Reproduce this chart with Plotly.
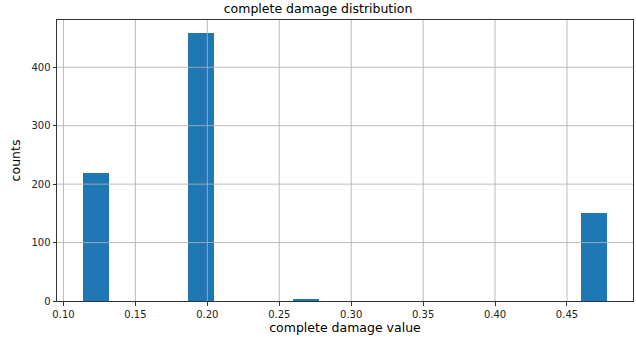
import plotly.graph_objects as go

# Histogram data (20 equal bins)
bin_start = 0.1137
bin_width = 0.0182
counts = [219, 0, 0, 0, 458, 0, 0, 0, 2, 0, 0, 0, 0, 0, 0, 0, 0, 0, 0, 150]
x_ticks = [0.10, 0.15, 0.20, 0.25, 0.30, 0.35, 0.40, 0.45]
x_tick_labels = ["0.10", "0.15", "0.20", "0.25", "0.30", "0.35", "0.40", "0.45"]
y_ticks = [0, 100, 200, 300, 400]

centers = [bin_start + bin_width * (i + 0.5) for i in range(len(counts))]
x_min = bin_start - bin_width
x_max = bin_start + bin_width * (len(counts) + 1)
y_max = max(counts) * 1.05

font = "DejaVu Sans"
fig = go.Figure()
fig.add_trace(go.Bar(
    x=centers, y=counts, width=bin_width,
    marker=dict(color="#1f77b4", line=dict(width=0)),
))

# gridlines drawn above bars like matplotlib
shapes = []
for t in x_ticks:
    shapes.append(dict(type="line", xref="x", yref="paper", x0=t, x1=t, y0=0, y1=1,
                       line=dict(color="rgba(176,176,176,0.85)", width=1), layer="above"))
for t in y_ticks[1:]:
    shapes.append(dict(type="line", xref="paper", yref="y", x0=0, x1=1, y0=t, y1=t,
                       line=dict(color="rgba(176,176,176,0.85)", width=1), layer="above"))

fig.update_layout(
    width=636, height=343,
    margin=dict(l=57, r=3, t=20, b=42),
    paper_bgcolor="white", plot_bgcolor="white",
    showlegend=False,
    shapes=shapes,
    bargap=0,
    title=dict(text="complete damage distribution", x=0.5, xanchor="center",
               y=1 - 9 / 343, yanchor="middle", font=dict(family=font, size=12.5, color="black")),
    font=dict(family=font, size=10, color="#222"),
)
fig.update_xaxes(
    range=[x_min, x_max], tickvals=x_ticks, ticktext=x_tick_labels,
    showgrid=False, zeroline=False, automargin=False,
    showline=True, linecolor="#333", linewidth=1, mirror=True,
    ticks="outside", ticklen=3.5, tickcolor="#333",
    title=dict(text="complete damage value", font=dict(family=font, size=12.5, color="black"), standoff=4),
)
fig.update_yaxes(
    range=[0, y_max], tickvals=y_ticks,
    showgrid=False, zeroline=False, automargin=False,
    showline=True, linecolor="#333", linewidth=1, mirror=True,
    ticks="outside", ticklen=3.5, tickcolor="#333",
    title=dict(text="counts", font=dict(family=font, size=12.5, color="black"), standoff=8),
)
fig.write_html("out.html", config={"displayModeBar": False},
               post_script="document.body.style.margin='0';document.body.style.padding='0';")
